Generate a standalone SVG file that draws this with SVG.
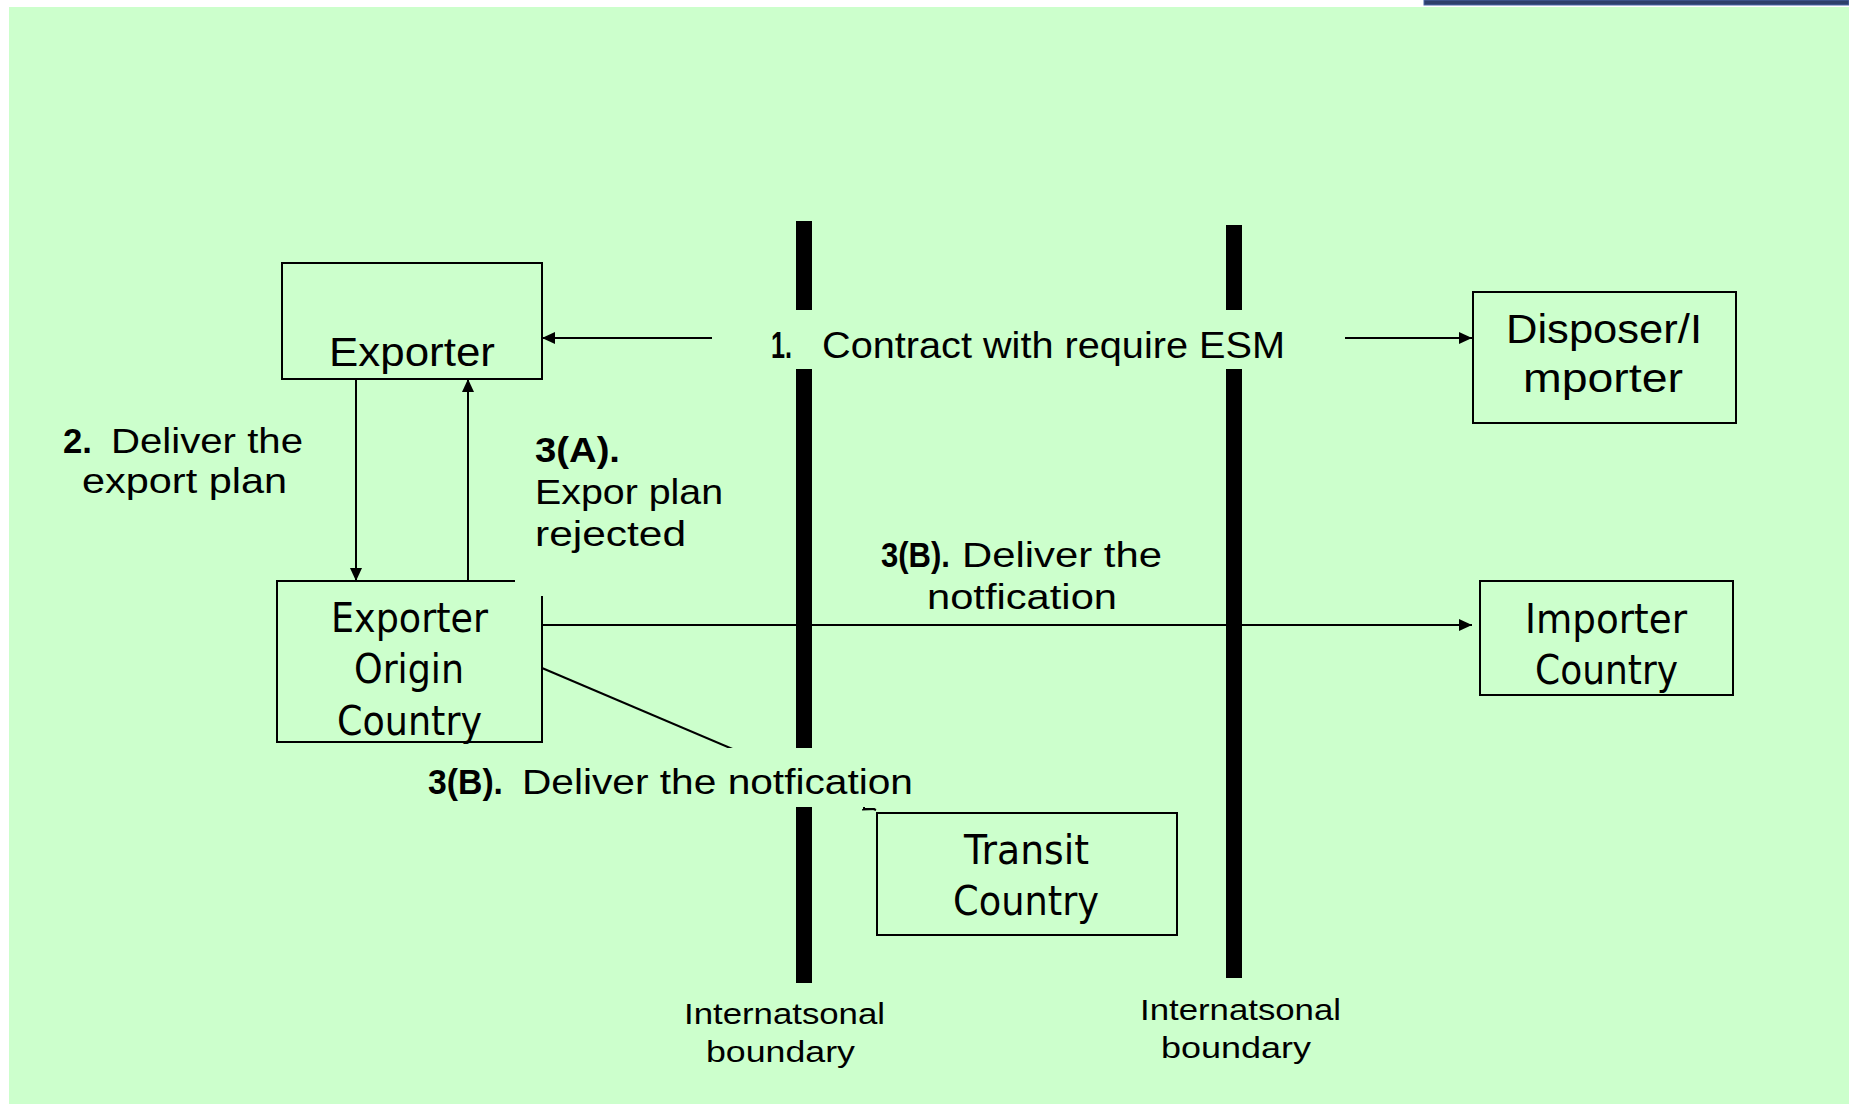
<svg xmlns="http://www.w3.org/2000/svg" width="1849" height="1105" viewBox="0 0 1849 1105">
<defs>
<marker id="arr" markerUnits="userSpaceOnUse" markerWidth="14" markerHeight="12" refX="13" refY="6" orient="auto">
<path d="M0,0 L13,6 L0,12 z" fill="#000"/>
</marker>
<style>
.box{fill:none;stroke:#000;stroke-width:2}
.ln{fill:none;stroke:#000;stroke-width:2}
.bar{fill:#000}
.lbl{font-family:"Liberation Sans",Arial,sans-serif;fill:#000}
.b{font-weight:bold}
.nd{font-family:"DejaVu Sans","Liberation Sans",sans-serif;fill:#000}
.cover{fill:#CCFFCC}
</style>
</defs>
<rect x="0" y="0" width="1849" height="1105" fill="#fff"/>
<rect x="1424" y="0" width="425" height="5" fill="#2E3F6B" stroke="#4A66A8" stroke-width="1"/>
<rect x="9" y="7" width="1840" height="1097" fill="#CCFFCC"/>

<g id="boundaries">
<rect class="bar" x="796" y="221" width="16" height="762"/>
<rect class="bar" x="1226" y="225" width="16" height="753"/>
</g>

<g id="connectors">
<line class="ln" x1="712" y1="338" x2="542" y2="338" marker-end="url(#arr)"/>
<line class="ln" x1="1345" y1="338" x2="1472" y2="338" marker-end="url(#arr)"/>
<line class="ln" x1="356" y1="379" x2="356" y2="581" marker-end="url(#arr)"/>
<line class="ln" x1="468" y1="581" x2="468" y2="379" marker-end="url(#arr)"/>
<line class="ln" x1="542" y1="625" x2="1472" y2="625" marker-end="url(#arr)"/>
<line class="ln" x1="542" y1="668" x2="876" y2="810" marker-end="url(#arr)"/>
</g>

<g id="exporter">
<rect class="box" x="282" y="263" width="260" height="116"/>
<text class="lbl" x="329" y="366" font-size="40" textLength="166" lengthAdjust="spacingAndGlyphs">Exporter</text>
</g>

<g id="disposer">
<rect class="box" x="1473" y="292" width="263" height="131"/>
<text class="lbl" x="1506" y="343" font-size="40" textLength="196" lengthAdjust="spacingAndGlyphs">Disposer/I</text>
<text class="lbl" x="1523" y="392" font-size="40" textLength="160" lengthAdjust="spacingAndGlyphs">mporter</text>
</g>

<g id="exporter-origin">
<path class="box" d="M515,581 H277 V742 H542 V596"/>
<text class="nd" x="331" y="632" font-size="40" textLength="157" lengthAdjust="spacingAndGlyphs">Exporter</text>
<text class="nd" x="354" y="683" font-size="40" textLength="110" lengthAdjust="spacingAndGlyphs">Origin</text>
<text class="nd" x="337" y="735" font-size="40" textLength="145" lengthAdjust="spacingAndGlyphs">Country</text>
</g>

<g id="importer">
<rect class="box" x="1480" y="581" width="253" height="114"/>
<text class="nd" x="1525" y="633" font-size="40" textLength="162" lengthAdjust="spacingAndGlyphs">Importer</text>
<text class="nd" x="1535" y="684" font-size="40" textLength="143" lengthAdjust="spacingAndGlyphs">Country</text>
</g>

<g id="transit">
<rect class="box" x="877" y="813" width="300" height="122"/>
<text class="nd" x="964" y="864" font-size="40" textLength="125" lengthAdjust="spacingAndGlyphs">Transit</text>
<text class="nd" x="953" y="915" font-size="40" textLength="146" lengthAdjust="spacingAndGlyphs">Country</text>
</g>

<g id="label-1">
<rect class="cover" x="760" y="310" width="540" height="59"/>
<text class="lbl b" x="771" y="358" font-size="37" textLength="21" lengthAdjust="spacingAndGlyphs">1.</text>
<text class="lbl" x="822" y="358" font-size="37" textLength="463" lengthAdjust="spacingAndGlyphs">Contract with require ESM</text>
</g>

<g id="label-2">
<text class="lbl b" x="63" y="453" font-size="35" textLength="29" lengthAdjust="spacingAndGlyphs">2.</text>
<text class="lbl" x="111" y="453" font-size="35" textLength="192" lengthAdjust="spacingAndGlyphs">Deliver the</text>
<text class="lbl" x="82" y="493" font-size="35" textLength="205" lengthAdjust="spacingAndGlyphs">export plan</text>
</g>

<g id="label-3a">
<rect class="cover" x="516" y="420" width="260" height="176"/>
<text class="lbl b" x="535" y="462" font-size="35" textLength="85" lengthAdjust="spacingAndGlyphs">3(A).</text>
<text class="lbl" x="535" y="504" font-size="35" textLength="188" lengthAdjust="spacingAndGlyphs">Expor plan</text>
<text class="lbl" x="535" y="546" font-size="35" textLength="151" lengthAdjust="spacingAndGlyphs">rejected</text>
</g>

<g id="label-3b-importer">
<text class="lbl b" x="881" y="567" font-size="35" textLength="69" lengthAdjust="spacingAndGlyphs">3(B).</text>
<text class="lbl" x="962" y="567" font-size="35" textLength="200" lengthAdjust="spacingAndGlyphs">Deliver the</text>
<text class="lbl" x="927" y="609" font-size="35" textLength="190" lengthAdjust="spacingAndGlyphs">notfication</text>
</g>

<g id="label-3b-transit">
<rect class="cover" x="420" y="748" width="445" height="59"/>
<rect class="cover" x="865" y="748" width="60" height="60"/>
<text class="lbl b" x="428" y="794" font-size="35" textLength="75" lengthAdjust="spacingAndGlyphs">3(B).</text>
<text class="lbl" x="522" y="794" font-size="35" textLength="391" lengthAdjust="spacingAndGlyphs">Deliver the notfication</text>
</g>

<g id="boundary-labels">
<text class="lbl" x="684" y="1024" font-size="30" textLength="201" lengthAdjust="spacingAndGlyphs">Internatsonal</text>
<text class="lbl" x="706" y="1062" font-size="30" textLength="149" lengthAdjust="spacingAndGlyphs">boundary</text>
<text class="lbl" x="1140" y="1020" font-size="30" textLength="201" lengthAdjust="spacingAndGlyphs">Internatsonal</text>
<text class="lbl" x="1161" y="1058" font-size="30" textLength="150" lengthAdjust="spacingAndGlyphs">boundary</text>
</g>
</svg>
